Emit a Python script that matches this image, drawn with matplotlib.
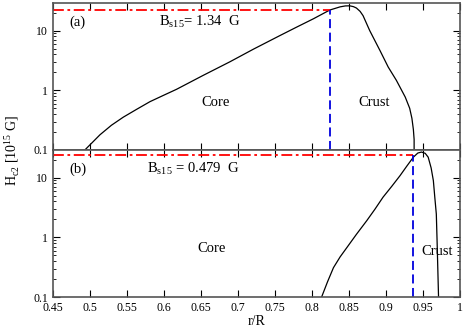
import numpy as np
import matplotlib
matplotlib.use("Agg")
import matplotlib.pyplot as plt
from matplotlib.ticker import FixedLocator, NullFormatter

plt.rcParams['font.family'] = ['Liberation Serif', 'DejaVu Serif']
plt.rcParams['mathtext.fontset'] = 'custom'
plt.rcParams['mathtext.rm'] = 'Liberation Serif'

# panel (a) curve
r_a = [0.493, 0.5035, 0.5135, 0.529, 0.545, 0.563, 0.581, 0.599, 0.617, 0.653,
       0.689, 0.721, 0.757, 0.779, 0.802, 0.824, 0.838, 0.845, 0.851, 0.856,
       0.860, 0.865, 0.869, 0.878, 0.892, 0.903, 0.914, 0.926, 0.932, 0.935,
       0.937, 0.938, 0.938]
h_a = [0.1, 0.135, 0.18, 0.26, 0.355, 0.48, 0.645, 0.82, 1.04, 1.78,
       3.0, 4.9, 8.3, 11.4, 15.8, 22.1, 25.0, 25.9, 26.0, 25.2,
       23.9, 21.0, 17.8, 10.0, 4.6, 2.45, 1.47, 0.77, 0.5, 0.34,
       0.22, 0.15, 0.1]
rc_a = 0.824   # core/crust boundary
hc_a = 22.5

# panel (b) curve
r_b = [0.813, 0.821, 0.829, 0.838, 0.847, 0.860, 0.874, 0.885, 0.896, 0.908,
       0.919, 0.928, 0.937, 0.943, 0.948, 0.953, 0.957, 0.961, 0.964, 0.966,
       0.968, 0.969, 0.970, 0.971]
h_b = [0.1, 0.18, 0.31, 0.47, 0.67, 1.12, 1.9, 2.95, 4.7, 7.2,
       10.8, 15.5, 22.0, 25.8, 26.8, 25.5, 22.0, 14.5, 8.9, 4.6,
       2.45, 0.9, 0.3, 0.1]
rc_b = 0.937
hc_b = 23.6

xticks = [0.45, 0.5, 0.55, 0.6, 0.65, 0.7, 0.75, 0.8, 0.85, 0.9, 0.95, 1.0]
xlabels = ['0.45', '0.5', '0.55', '0.6', '0.65', '0.7', '0.75', '0.8', '0.85', '0.9', '0.95', '1']
yminor = [0.2, 0.3, 0.4, 0.5, 0.6, 0.7, 0.8, 0.9, 2, 3, 4, 5, 6, 7, 8, 9, 20]

fig = plt.figure(figsize=(4.63, 3.27), dpi=100)
ax1 = fig.add_axes([53/463, 1-150/327, 407/463, 147/327])
ax2 = fig.add_axes([53/463, 1-297/327, 407/463, 147/327])

panels = [
    (ax1, r_a, h_a, rc_a, hc_a, '(a)', r'B$_{\rm s15}$= 1.34  G', 0.26, (0.40, 0.32), (0.79, 0.32)),
    (ax2, r_b, h_b, rc_b, hc_b, '(b)', r'B$_{\rm s15}$ = 0.479  G', 0.23, (0.39, 0.33), (0.944, 0.31)),
]

for ax, r, h, rc, hc, tag, btxt, bx, core, crust in panels:
    ax.plot(r, h, color='black', lw=0.9)
    ax.plot([0.45, rc], [hc, hc], color='red', lw=1.3, ls=(0, (6, 2, 1.5, 2)))
    ax.plot([rc, rc], [0.1, hc], color='#0000dd', lw=1.3, ls=(0, (5, 2.5)))
    ax.set_yscale('log')
    ax.set_xlim(0.45, 1.0)
    ax.set_ylim(0.1, 29)
    ax.xaxis.set_major_locator(FixedLocator(xticks))
    ax.yaxis.set_major_locator(FixedLocator([0.1, 1, 10]))
    ax.set_yticklabels(['0.1', '1', '10'])
    ax.yaxis.set_minor_locator(FixedLocator(yminor))
    ax.yaxis.set_minor_formatter(NullFormatter())
    ax.tick_params(which='both', direction='in', top=True, right=True, labelsize=8.5)
    ax.tick_params(which='major', length=5, width=0.8)
    ax.tick_params(which='minor', length=2.5, width=0.6)
    for s in ax.spines.values():
        s.set_color('#555555')
        s.set_linewidth(1.2)
    ax.text(0.04, 0.87, tag, transform=ax.transAxes, fontsize=10.5, va='center')
    ax.text(bx, 0.87, btxt, transform=ax.transAxes, fontsize=10.5, va='center')
    ax.text(core[0], core[1], 'Core', transform=ax.transAxes,
            fontsize=10.5, ha='center', va='center')
    ax.text(crust[0], crust[1], 'Crust', transform=ax.transAxes,
            fontsize=10.5, ha='center', va='center')

ax1.set_xticklabels([])
ax2.set_xticklabels(xlabels)
ax2.set_xlabel('r/R', fontsize=10, labelpad=1)
fig.text(0.025, 1-150/327, r'H$_{\rm c2}$ [10$^{15}$ G]', rotation=90,
         fontsize=10, ha='center', va='center')

fig.savefig('out.png', dpi=100)
